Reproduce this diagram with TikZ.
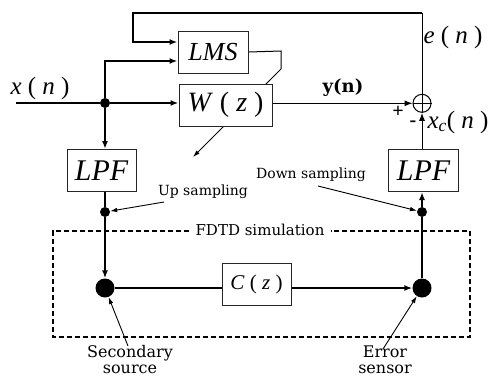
\documentclass[tikz,border=0pt]{standalone}
\usepackage{fontspec}
\setmainfont{Liberation Serif}
\newfontfamily\labelfont{DejaVu Serif}
\usetikzlibrary{arrows.meta,backgrounds}

\begin{document}
\begin{tikzpicture}[
  x=1pt, y=-1pt, >={Latex[length=8pt,width=6pt]},
  blockbox/.style={draw=black!85, line width=1pt, fill=white, inner sep=0pt, minimum height=42pt},
  sig/.style={line width=1.7pt},
  thinsig/.style={line width=1pt},
  note/.style={-{Latex[length=7pt,width=4.5pt]}, line width=0.9pt},
  bigdot/.style={circle, fill, inner sep=0pt, minimum size=19pt},
  smalldot/.style={circle, fill, inner sep=0pt, minimum size=10pt},
  dashedbox/.style={line width=1.6pt, dash pattern=on 5pt off 3pt},
  varlabel/.style={font=\fontsize{25}{27}\selectfont},
  smalltext/.style={font=\labelfont\fontsize{14}{16}\selectfont},
  sensortext/.style={font=\labelfont\fontsize{16}{16}\selectfont, align=center, inner sep=1pt}
]
  \useasboundingbox (0,0) rectangle (489,381);

  % blocks
  \node[blockbox, minimum width=70pt, font=\fontsize{26}{28}\selectfont\itshape] (lms) at (213,52) {LMS};
  \node[blockbox, minimum width=93pt, font=\fontsize{28}{30}\selectfont] (wz) at (225.5,105) {\textit{W} ( \textit{z} )};
  \node[blockbox, minimum width=69pt, font=\fontsize{30}{32}\selectfont\itshape] (lpfl) at (101.5,170.5) {LPF};
  \node[blockbox, minimum width=70pt, font=\fontsize{30}{32}\selectfont\itshape] (lpfr) at (423.5,170.5) {LPF};
  \node[blockbox, minimum width=69pt, font=\fontsize{21}{23}\selectfont] (cz) at (256.5,284) {\textit{C} ( \textit{z} )};
  \node[circle, draw, line width=1pt, minimum size=18pt, inner sep=0pt] (sum) at (422,103.3) {};
  \draw[line width=1pt] (sum.north) -- (sum.south) (sum.west) -- (sum.east);

  % points
  \coordinate (xin) at (16,103);
  \node[smalldot] (jn) at (105,103) {};
  \node[smalldot] (upl) at (105,212) {};
  \node[smalldot] (dnr) at (422,212) {};
  \node[bigdot] (src) at (105,288) {};
  \node[bigdot] (err) at (422,288) {};
  \coordinate (fbtop) at (133,13);
  \coordinate (adbend) at (281,51);
  \coordinate (adtop) at (281,69);
  \coordinate (adtip) at (193,157);

  % adaptation arrow, behind W(z)
  \begin{scope}[on background layer]
    \draw[thinsig] (lms.east) -- (adbend) -- (adtop);
    \draw[note] (adtop) -- (adtip);
  \end{scope}

  % signal paths
  \draw[sig] (xin) -- (jn);
  \draw[sig,->] (jn) -- (wz.west |- jn);
  \draw[sig,->] (jn) |- ([yshift=-9pt]lms.west);
  \draw[thinsig] (sum.north) -- (sum.north |- fbtop);
  \draw[sig,->] (sum.north |- fbtop) -- (fbtop) |- ([yshift=10pt]lms.west);
  \draw[thinsig,->] (wz.east |- sum) -- (sum.west);
  \draw[thinsig,->] (lpfr.north -| sum) -- (sum.south);
  \draw[sig,->] (jn) -- (lpfl.north -| jn);
  \draw[sig] (lpfl.south -| upl) -- (upl);
  \draw[sig,->] (upl) -- (src);
  \draw[sig] (src) -- (cz.west |- src);
  \draw[sig,->] (cz.east |- err) -- (err);
  \draw[sig] (err) -- (dnr);
  \draw[sig,->] (dnr) -- (lpfr.south -| dnr);

  % labels
  \node[varlabel] (lxn) at (40,88) {\textit{x} ( \textit{n} )};
  \node[varlabel] (len) at (453,37) {\textit{e} ( \textit{n} )};
  \node[varlabel] (lxc) at (458,122) {\textit{x}\textsubscript{\textit{c}}( \textit{n} )};
  \node[font=\labelfont\bfseries\fontsize{18}{20}\selectfont] (lyn) at (343,88) {y(n)};
  \node[font=\bfseries\fontsize{20}{22}\selectfont] (lplus) at (398,112) {+};
  \node[font=\bfseries\fontsize{20}{22}\selectfont] (lminus) at (413,124) {-};

  % sampling notes
  \node[smalltext] (lup) at (203,192) {Up sampling};
  \node[smalltext] (ldown) at (311,175) {Down sampling};
  \coordinate (uptail) at (164,202);
  \coordinate (dntail) at (318,186);
  \draw[note] (uptail) -- (upl);
  \draw[note] (dntail) -- (dnr);

  % FDTD region
  \node[font=\labelfont\fontsize{15}{17}\selectfont, inner xsep=6pt] (fdtd) at (260,230) {FDTD simulation};
  \coordinate (fbl) at (53,337);
  \coordinate (ftr) at (470,231);
  \draw[dashedbox] (fdtd.west |- ftr) -- (fbl |- ftr) -- (fbl) -- (ftr |- fbl) -- (ftr) -- (fdtd.east |- ftr);

  % transducers
  \node[sensortext] (lsrc) at (130,360) {Secondary\\source};
  \node[sensortext] (lerr) at (385,360) {Error\\sensor};
  \coordinate (srctail) at (128,346);
  \coordinate (errtail) at (383,349);
  \draw[note] (srctail) -- (src);
  \draw[note] (errtail) -- (err);
\end{tikzpicture}
\end{document}
